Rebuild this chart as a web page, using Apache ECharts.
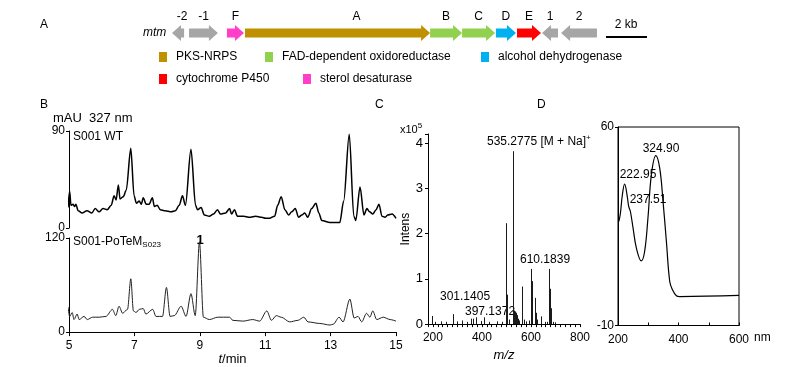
<!DOCTYPE html>
<html>
<head>
<meta charset="utf-8">
<script src="https://cdn.jsdelivr.net/npm/echarts@6/dist/echarts.min.js"></script>
<style>
html, body { margin: 0; background: #fff; }
#main { width: 789px; height: 367px; }
</style>
</head>
<body>
<div id="main"></div>
<script>
// A: gene cluster (kb from the left end)
var geneNames = ["-2", "-1", "F", "A", "B", "C", "D", "E", "1", "2"];
var geneStart = [0, 0.83, 2.68, 3.56, 12.59, 14.15, 15.8, 16.83, 18.05, 18.98];
var geneEnd = [0.59, 2.24, 3.51, 12.59, 14.15, 15.76, 16.78, 18.0, 18.83, 20.73];
var geneStrand = [-1, 1, 1, 1, 1, 1, 1, 1, -1, -1];
var geneType = ["other", "other", "sterol desaturase", "PKS-NRPS", "FAD-dependent oxidoreductase",
    "FAD-dependent oxidoreductase", "alcohol dehydrogenase", "cytochrome P450", "other", "other"];
var scaleBar = [21.17, 23.17];

// B: HPLC traces, 327 nm
var wtTime = [4.97,5.02,5.06,5.12,5.17,5.21,5.28,5.4,5.55,5.7,5.8,5.92,6.04,6.17,6.29,6.38,6.44,6.51,6.56,6.66,6.75,6.89,6.99,7.06,7.15,7.21,7.27,7.36,7.45,7.55,7.61,7.7,7.79,7.94,8.13,8.25,8.37,8.47,8.56,8.73,8.87,8.93,9.04,9.14,9.29,9.42,9.54,9.63,9.79,9.91,9.97,10.06,10.15,10.34,10.52,10.71,10.89,11.01,11.13,11.29,11.38,11.49,11.6,11.72,11.81,11.92,12.02,12.12,12.21,12.3,12.42,12.55,12.64,12.73,12.98,13.28,13.4,13.57,13.71,13.77,13.9,14.02,14.11,14.19,14.29,14.39,14.48,14.57,14.66,14.75,14.88,15.0];
var wtAbs = [19,34,21,22,20,22,16,14,16,14,18,15,18,17,21,30,26,40,27,29,35,74,30,23,25,22,28,22,22,28,20,21,17,16,15,16,21,30,21,73,21,17,19,12,11,13,17,13,14,18,13,17,11,11,10,11,10,9,9,11,21,29,17,12,15,18,10,12,14,10,18,23,14,7,5,5,25,87,11,7,38,12,18,15,13,17,22,11,10,12,13,9];
var mutTime = [4.97,5.02,5.10,5.15,5.25,5.31,5.46,5.56,5.72,5.92,6.13,6.33,6.43,6.53,6.64,6.79,6.89,6.97,7.05,7.15,7.27,7.35,7.56,7.66,7.86,7.98,8.09,8.22,8.43,8.58,8.73,8.86,8.99,9.11,9.29,9.55,9.91,10.01,10.32,10.62,10.83,11.05,11.19,11.34,11.49,11.75,12.0,12.18,12.31,12.67,12.98,13.08,13.26,13.38,13.59,13.72,13.84,13.95,14.1,14.2,14.29,14.41,14.61,14.82,15.0];
var mutAbs = [32,20,25,16,23,16,20,16,19,19,20,29,21,33,24,29,68,27,25,29,30,23,29,20,20,57,20,21,33,20,49,21,115,19,16,19,19,15,14,16,14,27,15,21,19,13,15,19,13,11,9,10,19,13,42,18,20,13,24,19,27,16,19,16,14];

// C: mass spectrum (x10^5)
var msMz = [195,210,232,255,283,300,318,340,355,365,376,395,410,430,460,480,498,504,512,526,530,533,537,541,546,552,562,565,571,580,590,600,603,606,617,620,625,640,657,665,675,677,680,690,700];
var msInt = [0.18,0.05,0.06,0.05,0.22,0.06,0.08,0.05,0.12,0.12,0.15,0.07,0.15,0.05,0.06,0.05,2.23,0.65,0.1,3.82,0.3,0.28,0.25,0.2,0.12,0.08,0.83,0.42,0.1,0.06,0.08,1.22,0.95,0.4,0.58,0.25,0.1,0.17,0.05,0.05,1.22,0.78,0.35,0.05,0.04];

// D: UV spectrum
var uvWave = [203,208,214.5,222,229.8,235.4,241,249.7,260.8,277,288,299,310.4,325,337.9,348.8,360,371,380,393,404,600];
var uvAbs = [26.7,29.6,36.1,39.9,36.1,32.0,30.2,24.4,17.3,12.8,16.1,27.9,43.2,49.9,45.5,33.8,19.6,5.5,2.6,0.5,0.2,0.6];

var typeColor = {
    "PKS-NRPS": "#BF9000",
    "FAD-dependent oxidoreductase": "#92D050",
    "alcohol dehydrogenase": "#00B0F0",
    "cytochrome P450": "#FF0000",
    "sterol desaturase": "#FF3FC8",
    "other": "#A6A6A6"
};
var labelNudge = { "A": 19, "-2": 4 };
var FONT = "Liberation Sans, Arial, sans-serif";

function zip(a, b) {
    var out = [];
    for (var i = 0; i < a.length; i++) out.push([a[i], b[i]]);
    return out;
}

function renderGene(params, api) {
    var s = api.value(0), e = api.value(1), dir = api.value(2);
    var name = geneNames[api.value(3)];
    var p0 = api.coord([s, 0]), p1 = api.coord([e, 0]);
    var x0 = p0[0], x1 = p1[0], cy = p0[1];
    var head = Math.min(9, x1 - x0);
    var bh = 4.5, hh = 8;
    var pts;
    if (dir > 0) {
        pts = [[x0, cy - bh], [x1 - head, cy - bh], [x1 - head, cy - hh], [x1, cy],
            [x1 - head, cy + hh], [x1 - head, cy + bh], [x0, cy + bh]];
    } else {
        pts = [[x1, cy - bh], [x0 + head, cy - bh], [x0 + head, cy - hh], [x0, cy],
            [x0 + head, cy + hh], [x0 + head, cy + bh], [x1, cy + bh]];
    }
    return {
        type: "group",
        children: [
            { type: "polygon", shape: { points: pts }, style: { fill: api.visual("color") } },
            {
                type: "text",
                style: {
                    text: name, x: (x0 + x1) / 2 + (labelNudge[name] || 0), y: cy - 16,
                    textAlign: "center", textVerticalAlign: "middle",
                    font: "12px " + FONT, fill: "#000"
                }
            }
        ]
    };
}

function renderStick(params, api) {
    var p0 = api.coord([api.value(0), 0]);
    var p1 = api.coord([api.value(0), api.value(1)]);
    var x = Math.round(p0[0]) + 0.5;
    return {
        type: "line",
        shape: { x1: x, y1: p0[1], x2: x, y2: p1[1] },
        style: { stroke: "#1a1a1a", lineWidth: 1 }
    };
}

var types = ["other", "sterol desaturase", "PKS-NRPS", "FAD-dependent oxidoreductase", "alcohol dehydrogenase", "cytochrome P450"];
var geneSeries = types.map(function(t) {
    var data = [];
    for (var i = 0; i < geneNames.length; i++) {
        if (geneType[i] == t) data.push([geneStart[i], geneEnd[i], geneStrand[i], i]);
    }
    return {
        name: t,
        type: "custom",
        xAxisIndex: 0,
        yAxisIndex: 0,
        itemStyle: { color: typeColor[t] },
        renderItem: renderGene,
        data: data,
        silent: true
    };
});

function legendAt(name, left, top) {
    return {
        data: [name],
        left: left,
        top: top,
        padding: 0,
        icon: "rect",
        itemWidth: 8,
        itemHeight: 10,
        selectedMode: false,
        textStyle: { fontSize: 12, fontFamily: FONT, color: "#000", padding: [0, 0, 0, 4] }
    };
}

var lbl = { fontSize: 12, fontFamily: FONT, color: "#000" };
var axisLn = { onZero: false, lineStyle: { color: "#000", width: 1 } };

function txt(x, y, text, extra) {
    var st = { text: text, x: x, y: y, font: "12px " + FONT, fill: "#000", textVerticalAlign: "middle" };
    for (var k in extra) st[k] = extra[k];
    return { type: "text", style: st, silent: true };
}

var chart = echarts.init(document.getElementById("main"));
var option = {
    animation: false,
    backgroundColor: "#fff",
    grid: [
        { left: 172, top: 25, width: 475.6, height: 16 },
        { left: 69, top: 131, width: 327, height: 97 },
        { left: 69, top: 238, width: 327, height: 95 },
        { left: 428, top: 134, width: 152, height: 194.3 },
        { left: 618, top: 127, width: 121, height: 198.5, show: true, borderColor: "#000", borderWidth: 1, backgroundColor: "transparent" }
    ],
    legend: [
        legendAt("PKS-NRPS", 159, 51),
        legendAt("FAD-dependent oxidoreductase", 265, 51),
        legendAt("alcohol dehydrogenase", 481, 51),
        legendAt("cytochrome P450", 159, 73),
        legendAt("sterol desaturase", 303, 73)
    ],
    xAxis: [
        { gridIndex: 0, type: "value", min: 0, max: 23.2, show: false },
        { gridIndex: 1, type: "value", min: 5, max: 15, show: false },
        {
            gridIndex: 2, type: "value", min: 5, max: 15, interval: 2,
            axisLine: axisLn, axisTick: { length: 4, lineStyle: { color: "#000" } },
            axisLabel: lbl, splitLine: { show: false },
            name: "{i|t}{n|/min}", nameLocation: "middle", nameGap: 19,
            nameTextStyle: { rich: { i: { fontStyle: "italic", fontSize: 13, fontFamily: FONT }, n: { fontSize: 13, fontFamily: FONT } } }
        },
        {
            gridIndex: 3, type: "value", min: 180, max: 800, interval: 20,
            axisLine: axisLn, axisTick: { length: 3, lineStyle: { color: "#000" } },
            axisLabel: {
                fontSize: 12, fontFamily: FONT, color: "#000",
                formatter: function(v) { return v % 200 === 0 ? v : ""; }
            },
            splitLine: { show: false },
            name: "m/z", nameLocation: "middle", nameGap: 19,
            nameTextStyle: { fontStyle: "italic", fontSize: 13, fontFamily: FONT, color: "#000" }
        },
        {
            gridIndex: 4, type: "value", min: 200, max: 600, interval: 100,
            axisLine: axisLn, axisTick: { inside: true, length: 3, lineStyle: { color: "#000" } },
            axisLabel: {
                fontSize: 12, fontFamily: FONT, color: "#000",
                formatter: function(v) { return v % 200 === 0 ? v : ""; }
            },
            splitLine: { show: false }
        }
    ],
    yAxis: [
        { gridIndex: 0, type: "value", min: -1, max: 1, show: false },
        {
            gridIndex: 1, type: "value", min: 0, max: 90, interval: 90,
            axisLine: { show: true, onZero: false, lineStyle: { color: "#000" } },
            axisTick: { show: true, length: 3, lineStyle: { color: "#000" } },
            axisLabel: { fontSize: 12, fontFamily: FONT, color: "#000", margin: 4 },
            splitLine: { show: false }
        },
        {
            gridIndex: 2, type: "value", min: 0, max: 120, interval: 120,
            axisLine: { show: true, onZero: false, lineStyle: { color: "#000" } },
            axisTick: { show: true, length: 3, lineStyle: { color: "#000" } },
            axisLabel: { fontSize: 12, fontFamily: FONT, color: "#000", margin: 4 },
            splitLine: { show: false }
        },
        {
            gridIndex: 3, type: "value", min: 0, max: 4.2, interval: 1,
            axisLine: { show: true, onZero: false, lineStyle: { color: "#000" } },
            axisTick: { show: true, length: 3, lineStyle: { color: "#000" } },
            axisLabel: {
                fontSize: 13, fontFamily: FONT, color: "#000", margin: 5,
                formatter: function(v) { return v % 1 === 0 ? v : ""; }
            },
            splitLine: { show: false },
            name: "Intens", nameLocation: "middle", nameGap: 15, nameRotate: 90,
            nameTextStyle: { fontSize: 12, fontFamily: FONT, color: "#000" }
        },
        {
            gridIndex: 4, type: "value", min: -10, max: 60, interval: 70,
            axisLine: { show: true, onZero: false, lineStyle: { color: "#000" } },
            axisTick: { show: true, length: 3, lineStyle: { color: "#000" } },
            axisLabel: { fontSize: 12, fontFamily: FONT, color: "#000", margin: 4 },
            splitLine: { show: false }
        }
    ],
    series: geneSeries.concat([
        {
            type: "line", xAxisIndex: 0, yAxisIndex: 0, silent: true,
            data: [[scaleBar[0], -0.5], [scaleBar[1], -0.5]],
            showSymbol: false, lineStyle: { color: "#000", width: 2 }
        },
        {
            name: "S001 WT", type: "line", xAxisIndex: 1, yAxisIndex: 1,
            data: zip(wtTime, wtAbs), showSymbol: false, smooth: 0.3, smoothMonotone: "x",
            lineStyle: { color: "#000", width: 1.5 }
        },
        {
            name: "S001-PoTeM", type: "line", xAxisIndex: 2, yAxisIndex: 2,
            data: zip(mutTime, mutAbs), showSymbol: false, smooth: 0.3, smoothMonotone: "x",
            lineStyle: { color: "#222", width: 1 }
        },
        {
            name: "MS", type: "custom", xAxisIndex: 3, yAxisIndex: 3,
            data: zip(msMz, msInt), renderItem: renderStick, silent: true
        },
        {
            name: "UV", type: "line", xAxisIndex: 4, yAxisIndex: 4,
            data: zip(uvWave, uvAbs), showSymbol: false, smooth: 0.4,
            lineStyle: { color: "#000", width: 1.2 }
        }
    ]),
    graphic: [
        txt(40, 25, "A"),
        txt(40, 105, "B"),
        txt(375, 105, "C"),
        txt(537, 105, "D"),
        txt(143, 33, "mtm", { font: "italic 12px " + FONT }),
        txt(626, 25, "2 kb", { textAlign: "center" }),
        txt(53, 118, "mAU  327 nm", { font: "13px " + FONT }),
        txt(73, 137, "S001 WT"),
        {
            type: "text", silent: true,
            style: {
                x: 73, y: 242, textVerticalAlign: "middle",
                text: "{a|S001-PoTeM}{b|S023}",
                rich: {
                    a: { fontSize: 12, fontFamily: FONT, fill: "#000", color: "#000" },
                    b: { fontSize: 8, fontFamily: FONT, fill: "#000", color: "#000", padding: [6, 0, 0, 0] }
                }
            }
        },
        txt(200, 240, "1", { textAlign: "center", font: "bold 13px " + FONT }),
        {
            type: "text", silent: true,
            style: {
                x: 400, y: 130, textVerticalAlign: "middle",
                text: "{a|x10}{b|5}",
                rich: {
                    a: { fontSize: 11, fontFamily: FONT, color: "#000" },
                    b: { fontSize: 8, fontFamily: FONT, color: "#000", padding: [0, 0, 8, 0] }
                }
            }
        },
        {
            type: "text", silent: true,
            style: {
                x: 487, y: 142, textVerticalAlign: "middle",
                text: "{a|535.2775 [M + Na]}{b|+}",
                rich: {
                    a: { fontSize: 12, fontFamily: FONT, color: "#000" },
                    b: { fontSize: 8, fontFamily: FONT, color: "#000", padding: [0, 0, 8, 0] }
                }
            }
        },
        txt(520, 260, "610.1839"),
        txt(440, 297, "301.1405"),
        txt(465, 312, "397.1372"),
        txt(661, 149, "324.90", { textAlign: "center" }),
        txt(638, 175, "222.95", { textAlign: "center" }),
        txt(648, 200, "237.51", { textAlign: "center" }),
        txt(754, 338, "nm")
    ]
};
chart.setOption(option);
</script>
</body>
</html>
